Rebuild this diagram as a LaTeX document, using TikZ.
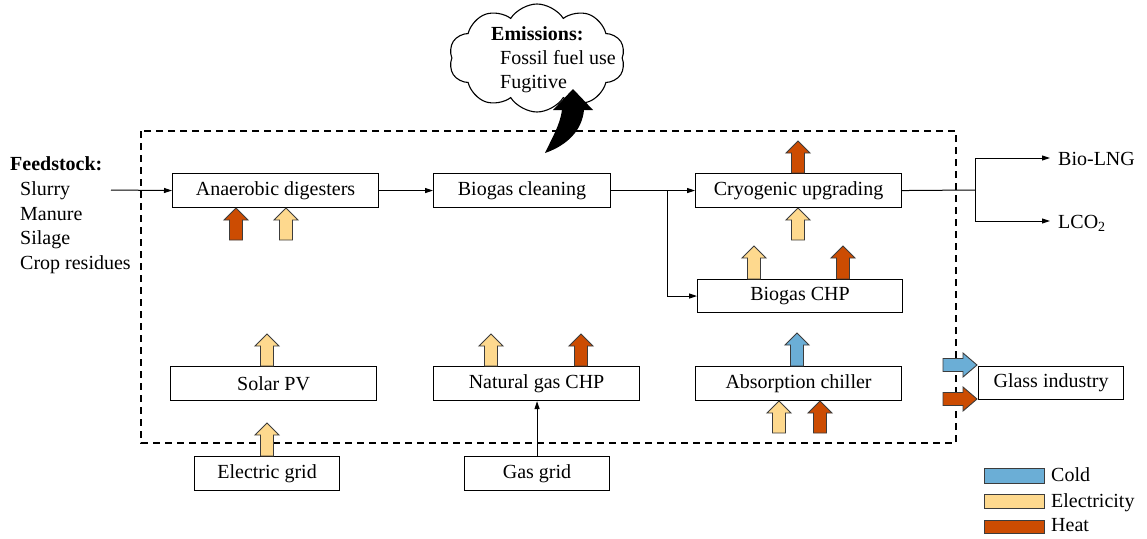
\documentclass[tikz,border=0pt]{standalone}
\usepackage{fontspec}
\setmainfont{Liberation Serif}
\usetikzlibrary{arrows.meta,shapes.symbols}
\definecolor{cold}{RGB}{107,174,214}
\definecolor{elec}{RGB}{254,217,142}
\definecolor{heat}{RGB}{204,76,2}
\definecolor{arredge}{RGB}{60,60,60}
\newcommand{\UpArr}[4]{\filldraw[fill=#4,draw=arredge,line width=0.9pt,line join=miter]
 ({#1-6.5},{#3}) -- ({#1-6.5},{#2+12}) -- ({#1-12},{#2+12}) -- ({#1},{#2}) -- ({#1+12},{#2+12}) -- ({#1+6.5},{#2+12}) -- ({#1+6.5},{#3}) -- cycle;}
\newcommand{\RtArr}[4]{\filldraw[fill=#4,draw=arredge,line width=0.9pt]
 ({#2},{#1-6.5}) -- ({#3-14},{#1-6.5}) -- ({#3-14},{#1-12}) -- ({#3},{#1}) -- ({#3-14},{#1+12}) -- ({#3-14},{#1+6.5}) -- ({#2},{#1+6.5}) -- cycle;}
\begin{document}
\begin{tikzpicture}[x=1pt,y=-1pt,
  every node/.style={font=\fontsize{20}{24}\selectfont},
  proc/.style={draw,line width=1.1pt,inner sep=0pt,anchor=north west},
  flow/.style={line width=1pt,-{Triangle[length=8pt,width=5pt]}},
  line/.style={line width=1pt},
  lab/.style={anchor=base west,inner sep=0pt}]
\useasboundingbox (0,0) rectangle (1147,538);
% system boundary
\draw[line width=1.4pt,dash pattern=on 7pt off 5pt] (141,131) rectangle (956,443);
% process boxes
\node[proc,minimum width=206pt,minimum height=34pt] (ad) at (172,173) {Anaerobic digesters};
\node[proc,minimum width=177pt,minimum height=34pt] (bc) at (433,173) {Biogas cleaning};
\node[proc,minimum width=206pt,minimum height=34pt] (cu) at (695,173) {Cryogenic upgrading};
\node[proc,minimum width=205pt,minimum height=33pt] (chp) at (697,279) {Biogas CHP};
\node[proc,minimum width=206pt,minimum height=34pt] (pv) at (170,366) {Solar PV};
\node[proc,minimum width=206pt,minimum height=34pt] (ng) at (433,366) {Natural gas CHP};
\node[proc,minimum width=206pt,minimum height=34pt] (ac) at (695,366) {Absorption chiller};
\node[proc,minimum width=145pt,minimum height=33pt] (gi) at (978,366) {Glass industry};
\node[proc,minimum width=145pt,minimum height=34pt] (eg) at (194,456) {Electric grid};
\node[proc,minimum width=145pt,minimum height=34pt] (gg) at (464,456) {Gas grid};
% feedstock
\node[lab,font=\fontsize{20}{24}\selectfont\bfseries] (fs) at (10,170) {Feedstock:};
\node[lab] (f1) at (20,195) {Slurry};
\node[lab] (f2) at (20,220) {Manure};
\node[lab] (f3) at (20,244) {Silage};
\node[lab] (f4) at (20,269) {Crop residues};
\coordinate (fsend) at (111,190);
% outputs
\node[lab] (lng) at (1058,165) {Bio-LNG};
\node[lab] (lco) at (1058,228) {LCO\textsubscript{2}};
% flows
\draw[flow] (fsend) -- (ad.west);
\draw[flow] (ad.east) -- (bc.west);
\draw[flow] (bc.east) -- (cu.west);
\coordinate (br) at (667,190);
\draw[flow] (br) |- (chp.west);
\coordinate (sp) at (975,190);
\draw[line] (cu.east) -- (sp);
\draw[flow] (sp) |- (1050,158);
\draw[flow] (sp) |- (1050,221);
\draw[flow] (gg.north) -- (ng.south -| gg.north);
% block arrows
\UpArr{236}{208}{240}{heat}
\UpArr{286}{208}{240}{elec}
\UpArr{798}{141}{173}{heat}
\UpArr{798}{208}{240}{elec}
\UpArr{754}{246}{279}{elec}
\UpArr{843}{246}{279}{heat}
\UpArr{267}{334}{366}{elec}
\UpArr{267}{423}{456}{elec}
\UpArr{491}{334}{366}{elec}
\UpArr{581}{334}{366}{heat}
\UpArr{797}{333}{366}{cold}
\UpArr{779}{401}{433}{elec}
\UpArr{820}{401}{433}{heat}
\RtArr{365}{943}{977}{cold}
\RtArr{399}{943}{977}{heat}
% legend
\filldraw[fill=cold,draw=arredge,line width=0.9pt] (984,468) rectangle (1044,483);
\filldraw[fill=elec,draw=arredge,line width=0.9pt] (984,494) rectangle (1044,508);
\filldraw[fill=heat,draw=arredge,line width=0.9pt] (984,520) rectangle (1044,533);
\node[lab] (lc) at (1051,481) {Cold};
\node[lab] (le) at (1051,507) {Electricity};
\node[lab] (lh) at (1051,531) {Heat};
% emissions cloud
\node[cloud,draw,line width=1.1pt,cloud puffs=10,cloud puff arc=115,aspect=1.6,
  minimum width=176pt,minimum height=108pt,inner sep=0pt] (cl) at (537,58) {};
\node[lab,font=\fontsize{20}{24}\selectfont\bfseries] (e0) at (491,40) {Emissions:};
\node[lab] (e1) at (500,64) {Fossil fuel use};
\node[lab] (e2) at (500,88) {Fugitive};
% curved emission arrow
\fill (545,153) .. controls (552,138) and (560,125) .. (562,110)
  -- (553,110) -- (573,89) -- (593,110) -- (584,110)
  .. controls (582,130) and (568,145) .. (545,153) -- cycle;
\end{tikzpicture}
\end{document}
